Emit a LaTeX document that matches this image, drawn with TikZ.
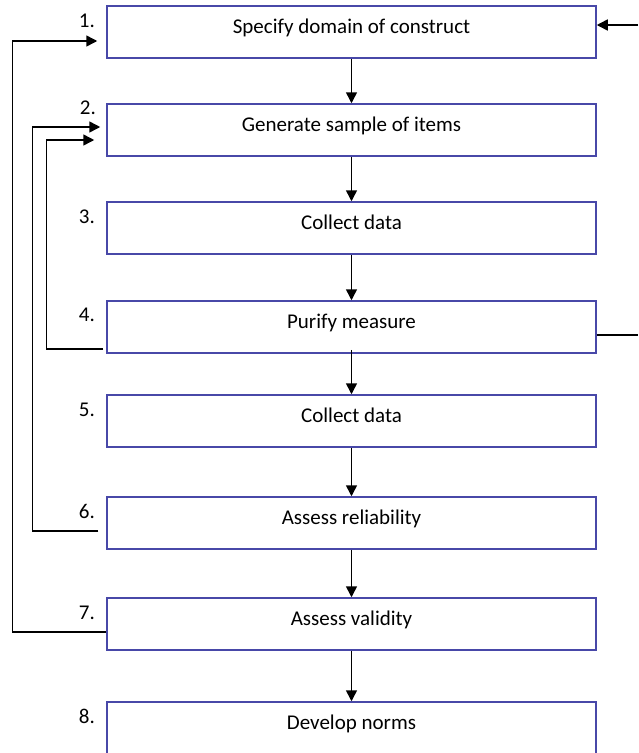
\documentclass[tikz,border=0pt]{standalone}
\usepackage{fontspec}
\setmainfont{Carlito}
\usepackage{tikz}
\usetikzlibrary{arrows.meta}

\begin{document}
\begin{tikzpicture}[x=1pt,y=-1pt,every node/.style={font=\fontsize{21}{25}\selectfont},
  stage/.style={draw={rgb,255:red,72;green,72;blue,168},line width=1.5pt,fill=white,minimum width=489pt,minimum height=52pt,text height=12pt,text depth=10pt,inner sep=0pt},
  num/.style={anchor=base east,inner sep=0pt},
  flow/.style={line width=1.5pt,-{Triangle[length=11pt,width=11pt]}},
  link/.style={line width=1.5pt}]
\useasboundingbox (0,0) rectangle (638,753);
\node[stage] (b1) at (351.5,32) {Specify domain of construct};
\node[stage] (b2) at (351.5,130) {Generate sample of items};
\node[stage] (b3) at (351.5,228) {Collect data};
\node[stage] (b4) at (351.5,327) {Purify measure};
\node[stage] (b5) at (351.5,421) {Collect data};
\node[stage] (b6) at (351.5,523) {Assess reliability};
\node[stage] (b7) at (351.5,624) {Assess validity};
\node[stage] (b8) at (351.5,728) {Develop norms};
\node[num] (n1) at (95,27) {1.};
\node[num] (n2) at (96,114) {2.};
\node[num] (n3) at (95,223) {3.};
\node[num] (n4) at (95,321) {4.};
\node[num] (n5) at (95,416) {5.};
\node[num] (n6) at (95,518) {6.};
\node[num] (n7) at (95,619) {7.};
\node[num] (n8) at (95,723) {8.};
\draw[flow] (b1.south) -- (b2.north);
\draw[flow] (b2.south) -- (b3.north);
\draw[flow] (b3.south) -- (b4.north);
\draw[flow] ([yshift=4pt]b4.south) -- (b5.north);
\draw[flow] (b5.south) -- (b6.north);
\draw[flow] (b6.south) -- (b7.north);
\draw[flow] (b7.south) -- (b8.north);
\draw[flow] ([yshift=-8pt]b7.west) -- ++(-94,0) |- ([xshift=-9pt,yshift=-9pt]b1.west);
\draw[flow] ([xshift=-8pt,yshift=-8pt]b6.west) -- ++(-66,0) |- ([xshift=-6pt,yshift=3pt]b2.west);
\draw[flow] ([xshift=-3pt,yshift=-22pt]b4.west) -- ++(-57,0) |- ([xshift=-12pt,yshift=-10pt]b2.west);
\coordinate (in1) at (638,25);
\coordinate (out4) at (638,335);
\draw[flow] (in1) -- (b1.east |- in1);
\draw[link] (b4.east |- out4) -- (out4);
\end{tikzpicture}
\end{document}
